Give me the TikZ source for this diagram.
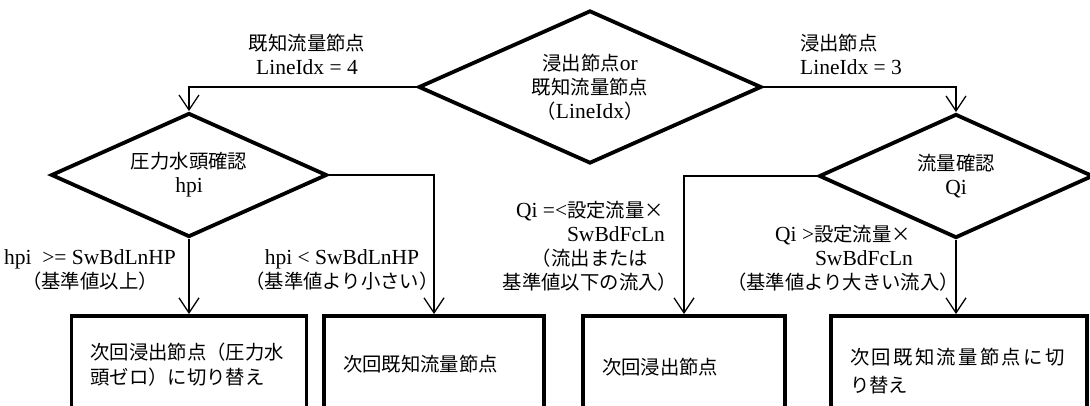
\documentclass[tikz,border=0pt]{standalone}
\usepackage{fontspec}
\setmainfont{Liberation Serif}
\newfontfamily\cjkfont{Noto Sans CJK JP}[Scale=0.9]
\newcommand\jt[1]{{\cjkfont #1}}
\usetikzlibrary{shapes.geometric,arrows.meta}
\begin{document}
\begin{tikzpicture}[x=1pt,y=-1pt,
  every node/.style={font=\fontsize{21.5}{24}\selectfont, inner sep=0pt},
  decision/.style={diamond, draw, line width=3.8pt, inner sep=0pt, align=center},
  actbox/.style={rectangle, draw, line width=3.6pt, anchor=north, align=left, inner xsep=19pt, inner ysep=0pt},
  arr/.style={-{Straight Barb[length=15pt,width=20pt]}, line width=1.3pt},
  lbl/.style={align=center}]
\useasboundingbox (0,0) rectangle (1090,405);
\begin{scope}
\clip (0,0) rectangle (1090,405);
% decisions
\node[decision, minimum width=343pt, minimum height=153pt, aspect=2.24] (top) at (590,87)
  {\jt{浸出節点}or\\\jt{既知流量節点}\\\jt{（}LineIdx\jt{）}};
\node[decision, minimum width=276pt, minimum height=124pt, aspect=2.22] (ld) at (189,175)
  {\jt{圧力水頭確認}\\hpi};
\node[decision, minimum width=274pt, minimum height=124pt, aspect=2.21] (rd) at (956,176)
  {\jt{流量確認}\\Qi};
% boxes
\node[actbox, text width=197pt, minimum height=97pt] (b1) at (189,314)
  {\jt{次回浸出節点（圧力水}\\[1pt]\jt{頭ゼロ）に切り替え}};
\node[actbox, text width=182pt, minimum height=96pt] (b2) at (434,314)
  {\jt{次回既知流量節点}};
\node[actbox, text width=164pt, minimum height=102pt] (b3) at (684,314)
  {\jt{次回浸出節点}};
\node[actbox, text width=218pt, minimum height=110pt] (b4) at (959,314)
  {\makebox[217pt][l]{\jt{次}\hfil\jt{回}\hfil\jt{既}\hfil\jt{知}\hfil\jt{流}\hfil\jt{量}\hfil\jt{節}\hfil\jt{点}\hfil\jt{に}\hfil\jt{切}}\\[4pt]\jt{り替え}};
% connectors
\draw[arr] (top.west) -| (ld.north);
\draw[arr] (top.east) -| (rd.north);
\draw[arr] (ld.south) -- (b1.north);
\draw[arr] (ld.east) -| (b2.north);
\draw[arr] (rd.west) -| (b3.north);
\draw[arr] (rd.south) -- (rd.south |- b4.north);
% labels
\node[lbl] (la) at (307,54) {\jt{既知流量節点}\\LineIdx = 4};
\node[align=left, anchor=west] (lb) at (800,54) {\jt{浸出節点}\\LineIdx = 3};
\node[lbl] (lc) at (90,270) {hpi\ \ >= SwBdLnHP\\\jt{（基準値以上）}};
\node[lbl] (ldl) at (342,270) {hpi < SwBdLnHP\\\jt{（基準値より小さい）}};
\node[lbl] (le) at (590,246) {Qi =<\jt{設定流量×}\\\hspace*{52pt}SwBdFcLn\\\jt{（流出または}\\\jt{基準値以下の流入）}};
\node[lbl] (lf) at (843,258) {Qi >\jt{設定流量×}\\\hspace*{42pt}SwBdFcLn\\\jt{（基準値より大きい流入）}};
\end{scope}
\end{tikzpicture}
\end{document}
